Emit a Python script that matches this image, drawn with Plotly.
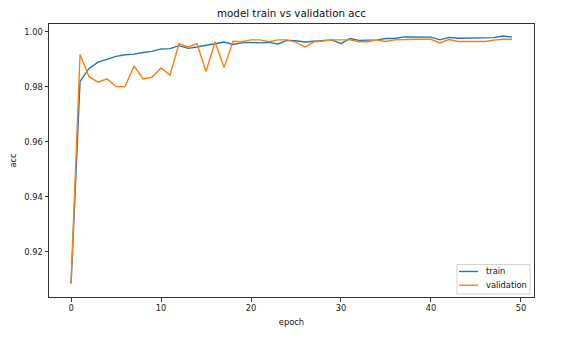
import plotly.graph_objects as go

epochs = list(range(50))
train_acc = [0.9085, 0.982, 0.9867, 0.989, 0.990, 0.9911, 0.9917, 0.9919, 0.9925, 0.9929,
             0.9938, 0.9939, 0.995, 0.994, 0.9945, 0.995, 0.9957, 0.9963, 0.9954, 0.996,
             0.9962, 0.996, 0.9962, 0.9956, 0.9969, 0.9968, 0.9963, 0.9966, 0.9969, 0.9971,
             0.9957, 0.9976, 0.9969, 0.9971, 0.9971, 0.9976, 0.9976, 0.9982, 0.9982, 0.9982,
             0.9981, 0.9971, 0.998, 0.9977, 0.9977, 0.9979, 0.9979, 0.9979, 0.9985, 0.9981]
val_acc = [0.9085, 0.9918, 0.9837, 0.9817, 0.9829, 0.9801, 0.9801, 0.9876, 0.9829, 0.9835,
           0.9869, 0.9843, 0.9957, 0.9945, 0.9957, 0.9856, 0.9964, 0.987, 0.9966, 0.9964,
           0.9971, 0.9971, 0.9964, 0.9971, 0.9971, 0.9962, 0.9945, 0.9964, 0.9967, 0.9971,
           0.9971, 0.9971, 0.9964, 0.9964, 0.9971, 0.9965, 0.9971, 0.9973, 0.9973, 0.9973,
           0.9973, 0.996, 0.9972, 0.9965, 0.9965, 0.9965, 0.9965, 0.997, 0.9973, 0.9973]
x_ticks = [0, 10, 20, 30, 40, 50]
y_ticks = [0.92, 0.94, 0.96, 0.98, 1.00]
series_names = ["train", "validation"]
series_colors = ["#1f77b4", "#ff7f0e"]

font = "DejaVu Sans"
fig = go.Figure()
for name, ys, col in zip(series_names, [train_acc, val_acc], series_colors):
    fig.add_trace(go.Scatter(x=epochs, y=ys, mode="lines", name=name,
                             line=dict(color=col, width=1.4), showlegend=False))

# plot area in pixels: x 49..534, y 24..302
L, R, T, B = 49, 534, 24, 302
def px(x):
    return (x - L) / (R - L)
def py(y):
    return (B - y) / (B - T)

# manual matplotlib-like legend
fig.add_shape(type="rect", xref="paper", yref="paper",
              x0=px(457), x1=px(530), y0=py(299), y1=py(269),
              line=dict(color="#d0d0d0", width=1), fillcolor="rgba(255,255,255,0.8)")
for i, (name, col) in enumerate(zip(series_names, series_colors)):
    yy = 276 + i * 14
    fig.add_shape(type="line", xref="paper", yref="paper",
                  x0=px(459), x1=px(478), y0=py(yy), y1=py(yy),
                  line=dict(color=col, width=1.4))
    fig.add_annotation(xref="paper", yref="paper", x=px(484), y=py(yy),
                       xanchor="left", yanchor="middle", text=name, showarrow=False,
                       font=dict(family=font, size=8.3, color="#111"))

axis_common = dict(showgrid=False, zeroline=False, showline=True, mirror=True,
                   linecolor="#333333", linewidth=1, ticks="outside", ticklen=3.5,
                   tickcolor="#333333", tickfont=dict(family=font, size=8.3, color="#222"))
fig.update_layout(
    width=574, height=337,
    margin=dict(l=L, r=574 - R, t=T, b=337 - B),
    paper_bgcolor="white", plot_bgcolor="white",
    title=dict(text="model train vs validation acc", x=(L + R) / 2 / 574, xanchor="center",
               y=1 - 13 / 337, yanchor="middle",
               font=dict(family=font, size=10.3, color="#111")),
    xaxis=dict(range=[-2.45, 51.45], tickvals=x_ticks,
               title=dict(text="epoch", font=dict(family=font, size=8.3, color="#111"), standoff=6),
               **axis_common),
    yaxis=dict(range=[0.90358, 1.00287], tickvals=y_ticks, tickformat=".2f",
               title=dict(text="acc", font=dict(family=font, size=8.3, color="#111"), standoff=6),
               **axis_common),
    showlegend=False,
)
fig.write_html("out.html")
